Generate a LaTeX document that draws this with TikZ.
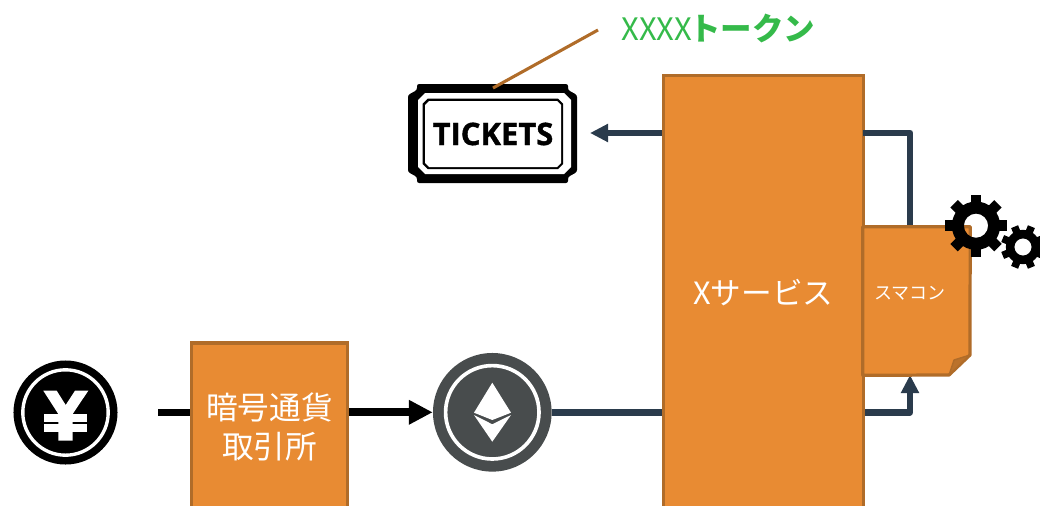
\documentclass[tikz,border=0pt]{standalone}
\usepackage{fontspec}
\usepackage{xcolor}
\setmainfont{Noto Sans CJK JP}
\newfontfamily\ticketfont[FakeBold=1.2]{Open Sans}
\usetikzlibrary{arrows.meta}
\definecolor{boxfill}{HTML}{E88B33}
\definecolor{boxline}{HTML}{B06C29}
\definecolor{flowline}{HTML}{2A3B4C}
\definecolor{tokengreen}{HTML}{35BA4A}
\definecolor{ethgrey}{HTML}{484C4D}
\newcommand{\gearicon}[4]{% centre x, centre y, scale radius, start angle
\fill[even odd rule] (#1,#2) circle [radius=#3*0.78] (#1,#2) circle [radius=#3*0.39];
\foreach \a in {0,45,...,315}
\fill[rotate around={\a+#4:(#1,#2)}] (#1+#3*0.7,#2-#3*0.17) rectangle (#1+#3,#2+#3*0.17);
}
\begin{document}
\begin{tikzpicture}[x=0.025cm,y=-0.025cm,
  orangebox/.style={draw=boxline,fill=boxfill,line width=2.3pt,text=white,inner sep=0pt,align=center},
  flow/.style={draw=flowline,line width=4.7pt,line join=round},
  flowtip/.style={-{Triangle[length=12.8pt,width=12.2pt]}},
  cashflow/.style={draw=black,line width=5.6pt},
  cashtip/.style={-{Triangle[length=17pt,width=16.5pt]}}]
\useasboundingbox (0,0) rectangle (1040,506);
\clip (0,0) rectangle (1040,506);

% yen coin
\node[circle,fill=black,inner sep=0pt,minimum size=2.6cm] (yen) at (65.5,412.5) {};
\draw[white,line width=2.4pt] (yen.center) circle [radius=42.7];
\fill[white] (43.3,390.7) -- (56.7,390.7) -- (65.7,405) -- (75,390.7) -- (88.3,390.7) -- (72.7,414) -- (72.7,440.7) -- (58.3,440.7) -- (58.3,414) -- cycle;
\fill[white] (44,414) rectangle (87.3,421.7);
\fill[white] (44,424.3) rectangle (87.3,431.7);

% exchange and ether
\coordinate (yenout) at (158,412.5);
\node[orangebox,minimum width=3.9cm,minimum height=4.2cm,font=\fontsize{22.5}{27.7}\selectfont] (exchange) at (269.5,427) {暗号通貨\\取引所};
\node[circle,fill=ethgrey,inner sep=0pt,minimum size=2.965cm] (eth) at (492.3,412.3) {};
\draw[white,line width=2.6pt] (eth.center) circle [radius=46.7];
\fill[white] (492.3,382.7) -- (511,412.7) -- (492.3,420) -- (474,412.7) -- cycle;
\fill[white] (474,415) -- (492.3,424.3) -- (511,415) -- (492.3,441.7) -- cycle;
\draw[cashflow] (yenout) -- (exchange.west |- yenout);
\draw[cashflow,cashtip] (exchange.east |- eth) -- (eth.west);

% service
\node[orangebox,minimum width=5cm,minimum height=10.85cm,font=\fontsize{21.8}{26}\selectfont] (service) at (763.5,292.5) {Xサービス};

% contract sheet
\node[inner sep=0pt,minimum width=2.67cm,minimum height=3.7cm] (contract) at (916.5,301) {};
\coordinate (foldtop) at (970,355);
\coordinate (foldleft) at (949,375);
\coordinate (foldin) at (954,360);
\coordinate (flowup) at (910,375);
\coordinate (flowdown) at (910,227);
\draw[flow] (eth.east) -- (service.west |- eth);
\draw[flow,flowtip] (service.east |- eth) -| (flowup);
\draw[flow] (863,133) -| (flowdown);
\draw[draw=boxline,fill=boxfill,line width=2.3pt,line join=round] (contract.north west) -- (contract.north east) -- (foldtop) -- (foldleft) -- (contract.south west) -- cycle;
\draw[draw=boxline,fill=boxline!80!boxfill,line width=1pt,line join=round] (foldtop) -- (foldin) -- (foldleft) -- cycle;
\node[text=white,font=\fontsize{12.8}{14}\selectfont,inner sep=0pt] (contractlabel) at (910,293.5) {スマコン};

% gears
\gearicon{976}{225.7}{31}{0}
\gearicon{1023}{247}{22}{22.5}

% ticket
\fill[black,rounded corners=1.5pt] (417,84) -- (568,84) -- (568,90) -- (577,95) -- (577,172) -- (568,177) -- (568,183) -- (417,183) -- (417,177) -- (408,172) -- (408,95) -- (417,90) -- cycle;
\foreach \l/\t/\r/\b/\c/\col in {418/93/571/174/7/white, 422.7/98.7/563/169/5/black, 425/101/561/167/4/white}
\fill[\col] ({\l+\c},\t) -- ({\r-\c},\t) -- (\r,{\t+\c}) -- (\r,{\b-\c}) -- ({\r-\c},\b) -- ({\l+\c},\b) -- (\l,{\b-\c}) -- (\l,{\t+\c}) -- cycle;
\node[inner sep=0pt,font=\ticketfont\bfseries\fontsize{22}{26}\selectfont] (tickets) at (493,134) {TICKETS};
\coordinate (ticketin) at (590,133);
\draw[flow,flowtip] (service.west |- ticketin) -- (ticketin);

% token label
\node[anchor=west,inner sep=0pt,text=tokengreen,font=\fontsize{22}{26}\selectfont] (token) at (621,28) {XXXX\kern-2pt\fontsize{22.4}{26}\selectfont\textbf{トークン}};
\coordinate (leaderend) at (598,30);
\coordinate (leaderstart) at (493,88);
\draw[boxline,line width=2.2pt] (leaderend) -- (leaderstart);
\end{tikzpicture}
\end{document}
